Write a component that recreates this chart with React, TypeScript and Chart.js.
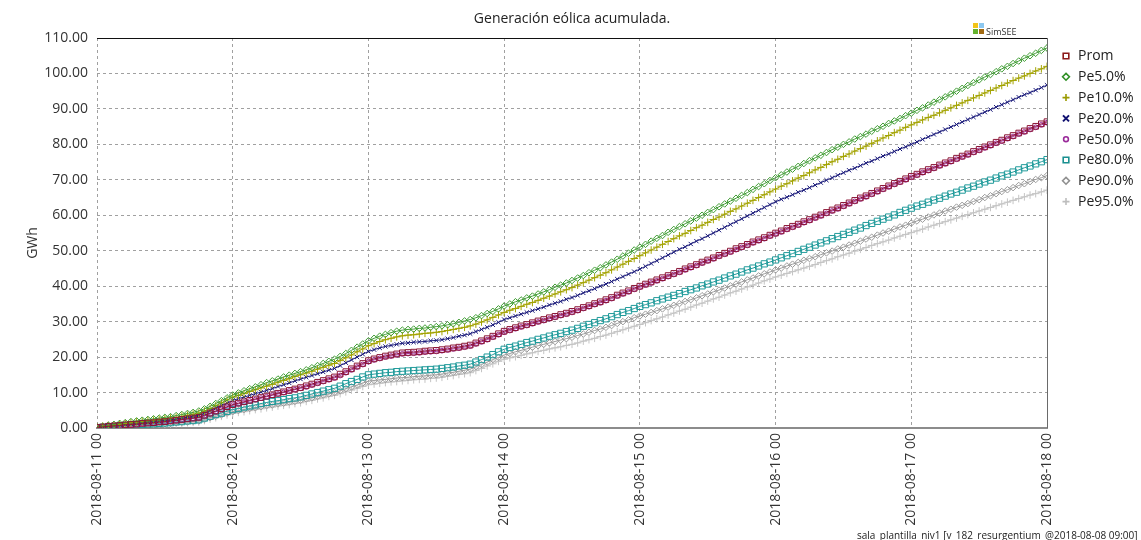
import { useEffect, useRef } from "react";
import { Chart, registerables } from "chart.js";

Chart.register(...registerables);

const FONT = "'Open Sans', 'Noto Sans', sans-serif";

const chartTitle = "Generación eólica acumulada.";
const yTitle = "GWh";
const footerText = "sala_plantilla_niv1 [v_182_resurgentium_@2018-08-08 09:00]";

const dayLabels = [
  "2018-08-11 00",
  "2018-08-12 00",
  "2018-08-13 00",
  "2018-08-14 00",
  "2018-08-15 00",
  "2018-08-16 00",
  "2018-08-17 00",
  "2018-08-18 00",
];

const seriesNames = ["Prom", "Pe5.0%", "Pe10.0%", "Pe20.0%", "Pe50.0%", "Pe80.0%", "Pe90.0%", "Pe95.0%"];

// hourly cumulative energy (GWh), 2018-08-11 00 .. 2018-08-18 00
const prom = [
  0.2, 0.3, 0.5, 0.6, 0.7, 0.9, 1.0,
  1.1, 1.3, 1.4, 1.5, 1.7, 1.8,
  2.0, 2.2, 2.4, 2.6, 2.8, 3.0,
  3.6, 4.2, 4.8, 5.4, 6.0, 6.6,
  7.0, 7.4, 7.8, 8.2, 8.6, 9.0,
  9.4, 9.8, 10.2, 10.6, 11.0, 11.4,
  11.9, 12.4, 12.9, 13.4, 13.9, 14.4,
  15.2, 15.9, 16.7, 17.5, 18.2, 19.0,
  19.5, 19.9, 20.3, 20.6, 20.9, 21.2,
  21.3, 21.4, 21.5, 21.7, 21.8, 21.9,
  22.1, 22.3, 22.6, 22.8, 23.1, 23.4,
  24.0, 24.6, 25.2, 25.9, 26.6, 27.3,
  27.8, 28.3, 28.8, 29.2, 29.7, 30.2,
  30.6, 31.1, 31.5, 32.0, 32.4, 32.9,
  33.4, 34.0, 34.5, 35.1, 35.6, 36.2,
  36.8, 37.5, 38.1, 38.7, 39.4, 40.0,
  40.6, 41.2, 41.8, 42.4, 43.0, 43.6,
  44.2, 44.9, 45.5, 46.1, 46.8, 47.4,
  48.0, 48.7, 49.3, 49.9, 50.6, 51.2,
  51.8, 52.5, 53.1, 53.7, 54.4, 55.0,
  55.6, 56.3, 56.9, 57.5, 58.2, 58.8,
  59.5, 60.1, 60.8, 61.5, 62.1, 62.8,
  63.5, 64.2, 64.9, 65.5, 66.2, 66.9,
  67.6, 68.3, 69.0, 69.6, 70.3, 71.0,
  71.6, 72.3, 72.9, 73.5, 74.2, 74.8,
  75.4, 76.1, 76.7, 77.3, 78.0, 78.6,
  79.3, 79.9, 80.6, 81.2, 81.9, 82.5,
  83.2, 83.8, 84.5, 85.1, 85.8, 86.4,
];

const pe5 = [
  0.3, 0.5, 0.8, 1.0, 1.3, 1.5, 1.8,
  2.0, 2.2, 2.4, 2.6, 2.8, 3.0,
  3.2, 3.5, 3.8, 4.1, 4.4, 4.8,
  5.4, 6.1, 6.9, 7.7, 8.5, 9.3,
  9.9, 10.5, 11.1, 11.6, 12.2, 12.8,
  13.3, 13.8, 14.4, 14.9, 15.4, 15.9,
  16.4, 17.0, 17.6, 18.2, 18.8, 19.4,
  20.2, 21.0, 21.9, 22.8, 23.7, 24.6,
  25.3, 25.9, 26.4, 26.9, 27.3, 27.6,
  27.8, 27.9, 28.1, 28.2, 28.4, 28.6,
  28.8, 29.1, 29.4, 29.8, 30.2, 30.6,
  31.1, 31.7, 32.3, 32.9, 33.6, 34.4,
  35.0, 35.6, 36.1, 36.7, 37.2, 37.8,
  38.4, 39.0, 39.7, 40.3, 40.9, 41.6,
  42.3, 43.0, 43.8, 44.5, 45.2, 46.0,
  46.8, 47.6, 48.5, 49.3, 50.2, 51.0,
  51.8, 52.7, 53.5, 54.3, 55.2, 56.0,
  56.8, 57.6, 58.4, 59.2, 60.0, 60.8,
  61.6, 62.4, 63.2, 64.0, 64.8, 65.6,
  66.4, 67.3, 68.1, 68.9, 69.8, 70.6,
  71.4, 72.2, 73.0, 73.8, 74.6, 75.4,
  76.2, 76.9, 77.7, 78.5, 79.2, 80.0,
  80.7, 81.5, 82.2, 82.9, 83.7, 84.4,
  85.1, 85.9, 86.6, 87.3, 88.1, 88.8,
  89.6, 90.3, 91.1, 91.9, 92.6, 93.4,
  94.2, 95.0, 95.8, 96.6, 97.4, 98.2,
  99.0, 99.7, 100.5, 101.3, 102.0, 102.8,
  103.5, 104.3, 105.0, 105.7, 106.5, 107.2,
];

const pe10 = [
  0.3, 0.5, 0.7, 0.9, 1.1, 1.3, 1.5,
  1.7, 1.9, 2.1, 2.2, 2.4, 2.6,
  2.8, 3.0, 3.3, 3.6, 3.9, 4.2,
  4.8, 5.5, 6.3, 7.1, 7.9, 8.7,
  9.2, 9.7, 10.3, 10.8, 11.3, 11.8,
  12.3, 12.9, 13.4, 13.9, 14.5, 15.0,
  15.5, 16.0, 16.6, 17.1, 17.7, 18.2,
  19.0, 19.8, 20.6, 21.5, 22.3, 23.2,
  23.8, 24.4, 24.9, 25.3, 25.7, 26.0,
  26.2, 26.3, 26.5, 26.7, 26.8, 27.0,
  27.2, 27.5, 27.8, 28.1, 28.4, 28.8,
  29.3, 29.9, 30.5, 31.2, 31.9, 32.6,
  33.2, 33.7, 34.3, 34.9, 35.4, 36.0,
  36.6, 37.2, 37.8, 38.4, 39.0, 39.6,
  40.3, 41.0, 41.7, 42.4, 43.1, 43.8,
  44.6, 45.4, 46.2, 47.0, 47.8, 48.6,
  49.4, 50.2, 51.0, 51.8, 52.6, 53.4,
  54.2, 54.9, 55.7, 56.5, 57.2, 58.0,
  58.8, 59.5, 60.3, 61.1, 61.8, 62.6,
  63.4, 64.2, 65.0, 65.8, 66.6, 67.4,
  68.2, 68.9, 69.7, 70.5, 71.2, 72.0,
  72.8, 73.5, 74.3, 75.1, 75.8, 76.6,
  77.3, 78.1, 78.8, 79.5, 80.3, 81.0,
  81.8, 82.5, 83.3, 84.0, 84.8, 85.5,
  86.2, 86.9, 87.6, 88.2, 88.9, 89.6,
  90.3, 91.0, 91.7, 92.4, 93.1, 93.8,
  94.5, 95.2, 95.9, 96.6, 97.3, 98.0,
  98.7, 99.3, 100.0, 100.7, 101.3, 102.0,
];

const pe20 = [
  0.2, 0.4, 0.5, 0.7, 0.9, 1.0, 1.2,
  1.4, 1.5, 1.7, 1.8, 2.0, 2.1,
  2.3, 2.5, 2.8, 3.0, 3.3, 3.6,
  4.2, 4.9, 5.6, 6.3, 7.0, 7.8,
  8.3, 8.7, 9.2, 9.7, 10.1, 10.6,
  11.1, 11.7, 12.2, 12.7, 13.3, 13.8,
  14.3, 14.8, 15.3, 15.8, 16.3, 16.8,
  17.6, 18.4, 19.2, 20.0, 20.8, 21.6,
  22.1, 22.6, 23.0, 23.3, 23.6, 23.9,
  24.0, 24.2, 24.3, 24.4, 24.6, 24.7,
  24.9, 25.2, 25.5, 25.9, 26.2, 26.6,
  27.2, 27.8, 28.4, 29.1, 29.8, 30.6,
  31.1, 31.6, 32.1, 32.6, 33.1, 33.6,
  34.1, 34.7, 35.2, 35.7, 36.3, 36.8,
  37.4, 38.1, 38.7, 39.3, 40.0, 40.6,
  41.3, 42.0, 42.7, 43.4, 44.1, 44.8,
  45.6, 46.4, 47.2, 48.0, 48.8, 49.6,
  50.4, 51.1, 51.9, 52.7, 53.4, 54.2,
  55.0, 55.8, 56.6, 57.4, 58.2, 59.0,
  59.8, 60.6, 61.4, 62.2, 63.0, 63.8,
  64.5, 65.1, 65.8, 66.5, 67.1, 67.8,
  68.5, 69.2, 69.9, 70.6, 71.3, 72.0,
  72.7, 73.3, 74.0, 74.7, 75.3, 76.0,
  76.7, 77.3, 78.0, 78.7, 79.3, 80.0,
  80.7, 81.4, 82.1, 82.8, 83.5, 84.2,
  84.9, 85.6, 86.3, 87.0, 87.7, 88.4,
  89.1, 89.8, 90.5, 91.2, 91.9, 92.6,
  93.3, 94.0, 94.6, 95.3, 96.0, 96.7,
];

const pe50 = [
  0.2, 0.3, 0.4, 0.5, 0.7, 0.8, 0.9,
  1.0, 1.2, 1.3, 1.4, 1.6, 1.7,
  1.9, 2.1, 2.3, 2.5, 2.7, 2.9,
  3.4, 4.0, 4.6, 5.2, 5.8, 6.4,
  6.8, 7.2, 7.6, 8.0, 8.4, 8.8,
  9.2, 9.6, 10.0, 10.4, 10.8, 11.2,
  11.6, 12.1, 12.6, 13.1, 13.6, 14.1,
  14.8, 15.6, 16.4, 17.2, 17.9, 18.7,
  19.2, 19.6, 20.0, 20.3, 20.6, 20.9,
  21.0, 21.1, 21.2, 21.4, 21.5, 21.6,
  21.8, 22.0, 22.3, 22.5, 22.8, 23.1,
  23.7, 24.3, 24.9, 25.6, 26.3, 27.0,
  27.5, 28.0, 28.5, 28.9, 29.4, 29.9,
  30.3, 30.8, 31.2, 31.7, 32.1, 32.6,
  33.1, 33.7, 34.2, 34.8, 35.3, 35.9,
  36.5, 37.2, 37.8, 38.4, 39.1, 39.7,
  40.3, 40.9, 41.5, 42.1, 42.7, 43.3,
  43.9, 44.6, 45.2, 45.8, 46.5, 47.1,
  47.7, 48.4, 49.0, 49.6, 50.3, 50.9,
  51.5, 52.2, 52.8, 53.4, 54.1, 54.7,
  55.3, 56.0, 56.6, 57.2, 57.9, 58.5,
  59.2, 59.8, 60.5, 61.2, 61.8, 62.5,
  63.2, 63.9, 64.6, 65.2, 65.9, 66.6,
  67.3, 68.0, 68.7, 69.3, 70.0, 70.7,
  71.3, 72.0, 72.6, 73.2, 73.9, 74.5,
  75.1, 75.8, 76.4, 77.0, 77.7, 78.3,
  79.0, 79.6, 80.3, 80.9, 81.6, 82.2,
  82.9, 83.5, 84.2, 84.8, 85.5, 86.1,
];

const pe80 = [
  0.1, 0.2, 0.3, 0.4, 0.6, 0.7, 0.8,
  0.9, 1.0, 1.1, 1.2, 1.3, 1.4,
  1.5, 1.7, 1.8, 2.0, 2.1, 2.3,
  2.8, 3.3, 3.8, 4.2, 4.7, 5.2,
  5.5, 5.9, 6.2, 6.5, 6.9, 7.2,
  7.5, 7.7, 8.0, 8.3, 8.5, 8.8,
  9.2, 9.6, 10.0, 10.4, 10.8, 11.2,
  11.8, 12.5, 13.1, 13.7, 14.4, 15.0,
  15.2, 15.4, 15.6, 15.7, 15.9, 16.0,
  16.1, 16.2, 16.3, 16.4, 16.5, 16.6,
  16.8, 17.0, 17.2, 17.5, 17.7, 18.0,
  18.6, 19.3, 20.0, 20.7, 21.5, 22.2,
  22.7, 23.1, 23.6, 24.1, 24.5, 25.0,
  25.4, 25.9, 26.3, 26.7, 27.2, 27.6,
  28.1, 28.7, 29.2, 29.7, 30.3, 30.8,
  31.4, 32.0, 32.6, 33.1, 33.7, 34.3,
  34.8, 35.3, 35.9, 36.4, 36.9, 37.4,
  37.9, 38.5, 39.0, 39.5, 40.1, 40.6,
  41.2, 41.7, 42.3, 42.9, 43.4, 44.0,
  44.6, 45.1, 45.7, 46.3, 46.8, 47.4,
  48.0, 48.6, 49.2, 49.8, 50.4, 51.0,
  51.6, 52.2, 52.8, 53.4, 54.0, 54.6,
  55.2, 55.8, 56.4, 57.1, 57.7, 58.3,
  58.9, 59.5, 60.1, 60.8, 61.4, 62.0,
  62.6, 63.1, 63.7, 64.3, 64.8, 65.4,
  66.0, 66.5, 67.1, 67.7, 68.2, 68.8,
  69.4, 69.9, 70.5, 71.1, 71.6, 72.2,
  72.8, 73.4, 73.9, 74.5, 75.1, 75.7,
];

const pe90 = [
  0.1, 0.2, 0.3, 0.4, 0.5, 0.6, 0.7,
  0.8, 0.9, 1.0, 1.0, 1.1, 1.2,
  1.3, 1.5, 1.6, 1.7, 1.9, 2.0,
  2.4, 2.9, 3.3, 3.7, 4.2, 4.6,
  4.9, 5.2, 5.5, 5.7, 6.0, 6.3,
  6.5, 6.8, 7.0, 7.3, 7.5, 7.8,
  8.2, 8.5, 8.9, 9.3, 9.6, 10.0,
  10.5, 11.1, 11.6, 12.1, 12.7, 13.2,
  13.4, 13.6, 13.7, 13.9, 14.1, 14.2,
  14.3, 14.5, 14.6, 14.7, 14.9, 15.0,
  15.2, 15.5, 15.7, 16.0, 16.3, 16.6,
  17.3, 17.9, 18.6, 19.3, 19.9, 20.6,
  21.0, 21.5, 21.9, 22.3, 22.8, 23.2,
  23.6, 24.0, 24.4, 24.8, 25.2, 25.6,
  26.1, 26.5, 27.0, 27.5, 27.9, 28.4,
  28.9, 29.5, 30.0, 30.5, 31.1, 31.6,
  32.1, 32.6, 33.1, 33.6, 34.1, 34.6,
  35.1, 35.7, 36.2, 36.7, 37.3, 37.8,
  38.4, 38.9, 39.5, 40.1, 40.6, 41.2,
  41.8, 42.3, 42.9, 43.5, 44.0, 44.6,
  45.1, 45.7, 46.2, 46.7, 47.3, 47.8,
  48.3, 48.9, 49.4, 49.9, 50.5, 51.0,
  51.6, 52.1, 52.7, 53.3, 53.8, 54.4,
  55.0, 55.5, 56.1, 56.7, 57.2, 57.8,
  58.4, 58.9, 59.5, 60.1, 60.6, 61.2,
  61.7, 62.3, 62.8, 63.3, 63.9, 64.4,
  65.0, 65.5, 66.1, 66.7, 67.2, 67.8,
  68.4, 68.9, 69.5, 70.1, 70.6, 71.2,
];

const pe95 = [
  0.1, 0.2, 0.3, 0.3, 0.4, 0.5, 0.6,
  0.7, 0.7, 0.8, 0.9, 0.9, 1.0,
  1.1, 1.2, 1.3, 1.5, 1.6, 1.7,
  2.1, 2.5, 2.9, 3.3, 3.7, 4.1,
  4.4, 4.6, 4.9, 5.2, 5.4, 5.7,
  5.9, 6.2, 6.4, 6.6, 6.9, 7.1,
  7.5, 7.8, 8.2, 8.5, 8.9, 9.2,
  9.7, 10.2, 10.7, 11.2, 11.7, 12.2,
  12.4, 12.6, 12.8, 13.0, 13.1, 13.3,
  13.4, 13.6, 13.7, 13.8, 14.0, 14.1,
  14.3, 14.6, 14.8, 15.1, 15.3, 15.6,
  16.2, 16.8, 17.5, 18.1, 18.8, 19.4,
  19.8, 20.1, 20.5, 20.9, 21.2, 21.6,
  21.9, 22.3, 22.6, 22.9, 23.3, 23.6,
  24.0, 24.5, 24.9, 25.3, 25.8, 26.2,
  26.7, 27.2, 27.7, 28.2, 28.7, 29.2,
  29.7, 30.3, 30.8, 31.3, 31.9, 32.4,
  33.0, 33.5, 34.1, 34.7, 35.2, 35.8,
  36.4, 36.9, 37.5, 38.1, 38.6, 39.2,
  39.8, 40.3, 40.9, 41.5, 42.0, 42.6,
  43.1, 43.6, 44.1, 44.6, 45.1, 45.6,
  46.1, 46.7, 47.2, 47.7, 48.3, 48.8,
  49.3, 49.9, 50.4, 50.9, 51.5, 52.0,
  52.5, 53.0, 53.6, 54.1, 54.6, 55.1,
  55.6, 56.1, 56.7, 57.2, 57.7, 58.2,
  58.7, 59.2, 59.7, 60.2, 60.7, 61.2,
  61.7, 62.2, 62.7, 63.2, 63.7, 64.2,
  64.7, 65.2, 65.7, 66.1, 66.6, 67.1,
];

const seriesValues = [prom, pe5, pe10, pe20, pe50, pe80, pe90, pe95];

// styles
const seriesColors = ["#8b1536", "#3f9c33", "#a3a300", "#1a1a7a", "#a02e9c", "#1f9a9a", "#9a9a9a", "#c4c4c4"];
const legendColors = ["#8b1a1a", "#2f8f25", "#9a9a00", "#101070", "#9a2a9a", "#1a9090", "#909090", "#bdbdbd"];
const seriesPointStyles = ["rect", "rectRot", "cross", "crossRot", "circle", "rect", "rectRot", "cross"];
const seriesPointRadius = [4, 3.3, 3.8, 3, 2.4, 4.4, 3.3, 3.8];

function drawMarker(ctx: CanvasRenderingContext2D, style: string, x: number, y: number, color: string) {
  ctx.save();
  ctx.strokeStyle = color;
  ctx.lineWidth = 1.6;
  ctx.beginPath();
  if (style === "rect") {
    ctx.rect(x - 2.8, y - 2.8, 5.6, 5.6);
  } else if (style === "rectRot") {
    ctx.moveTo(x, y - 3.4);
    ctx.lineTo(x + 3.4, y);
    ctx.lineTo(x, y + 3.4);
    ctx.lineTo(x - 3.4, y);
    ctx.closePath();
  } else if (style === "cross") {
    ctx.moveTo(x - 3.5, y);
    ctx.lineTo(x + 3.5, y);
    ctx.moveTo(x, y - 3.5);
    ctx.lineTo(x, y + 3.5);
  } else if (style === "crossRot") {
    ctx.lineWidth = 2;
    ctx.moveTo(x - 3, y - 3);
    ctx.lineTo(x + 3, y + 3);
    ctx.moveTo(x + 3, y - 3);
    ctx.lineTo(x - 3, y + 3);
  } else {
    ctx.arc(x, y, 2.4, 0, Math.PI * 2);
  }
  ctx.stroke();
  ctx.restore();
}

const overlay = {
  id: "overlay",
  afterDraw(chart: any) {
    const ctx: CanvasRenderingContext2D = chart.ctx;
    const area = chart.chartArea;
    ctx.save();
    // frame: top solid black, right solid gray
    ctx.strokeStyle = "#111";
    ctx.lineWidth = 1;
    ctx.beginPath();
    ctx.moveTo(area.left, Math.round(area.top) + 0.5);
    ctx.lineTo(area.right, Math.round(area.top) + 0.5);
    ctx.stroke();
    ctx.strokeStyle = "#6a6a6a";
    ctx.beginPath();
    ctx.moveTo(Math.round(area.right) + 0.5, area.top);
    ctx.lineTo(Math.round(area.right) + 0.5, area.bottom);
    ctx.stroke();

    // title
    ctx.fillStyle = "#222";
    ctx.font = `14px ${FONT}`;
    ctx.textAlign = "center";
    ctx.textBaseline = "middle";
    ctx.fillText(chartTitle, (area.left + area.right) / 2, 19);

    // y title
    ctx.save();
    ctx.translate(33, 243);
    ctx.rotate(-Math.PI / 2);
    ctx.font = `14px ${FONT}`;
    ctx.fillStyle = "#333";
    ctx.fillText(yTitle, 0, 0);
    ctx.restore();

    // SimSEE logo
    ctx.fillStyle = "#f2c41a";
    ctx.fillRect(973, 23, 5, 5);
    ctx.fillStyle = "#8cc8f0";
    ctx.fillRect(979, 23, 5, 5);
    ctx.fillStyle = "#66b32e";
    ctx.fillRect(973, 29, 5, 5);
    ctx.fillStyle = "#a26a12";
    ctx.fillRect(979, 29, 5, 5);
    ctx.fillStyle = "#333";
    ctx.font = `9px ${FONT}`;
    ctx.textAlign = "left";
    ctx.textBaseline = "alphabetic";
    ctx.fillText("SimSEE", 986, 35);

    // legend
    ctx.font = `14px ${FONT}`;
    ctx.textBaseline = "middle";
    ctx.fillStyle = "#222";
    for (let i = 0; i < seriesNames.length; i++) {
      const y = 56 + i * 20.8;
      drawMarker(ctx, seriesPointStyles[i], 1066, y, legendColors[i]);
      ctx.fillStyle = "#222";
      ctx.fillText(seriesNames[i], 1078, y + 0.5);
    }

    // footer
    ctx.font = `10px ${FONT}`;
    ctx.textBaseline = "alphabetic";
    ctx.fillStyle = "#222";
    ctx.fillText(footerText, 857, 539);
    ctx.restore();
  },
};

export default function App() {
  const ref = useRef<HTMLCanvasElement | null>(null);

  useEffect(() => {
    document.body.style.margin = "0";
    const canvas = ref.current;
    if (!canvas) return;
    const datasets = seriesNames.map((name, i) => ({
      label: name,
      data: seriesValues[i].map((v, h) => ({ x: h, y: v })),
      borderColor: seriesColors[i],
      backgroundColor: "rgba(0,0,0,0)",
      borderWidth: 1,
      pointStyle: seriesPointStyles[i] as any,
      pointRadius: seriesPointRadius[i],
      pointBorderWidth: 1,
      pointBorderColor: seriesColors[i],
      pointBackgroundColor: "rgba(255,255,255,0)",
      tension: 0,
      fill: false,
    }));

    const tickFont = { family: FONT, size: 14 };
    const chart = new Chart(canvas, {
      type: "line",
      data: { datasets },
      options: {
        animation: false,
        responsive: false,
        events: [],
        layout: { padding: { left: 0, top: 38, right: 94, bottom: 0 } },
        plugins: {
          legend: { display: false },
          title: { display: false },
          tooltip: { enabled: false },
        },
        scales: {
          x: {
            type: "linear",
            min: 0,
            max: 168,
            ticks: {
              stepSize: 24,
              autoSkip: false,
              minRotation: 90,
              maxRotation: 90,
              padding: 5,
              font: tickFont,
              color: "#333",
              callback: (v: any) => dayLabels[Math.round(Number(v) / 24)] ?? "",
            },
            grid: { color: "#a0a0a0", lineWidth: 1, drawTicks: false },
            border: { display: true, color: "#8c8c8c", width: 2, dash: [3, 3] },
            afterFit: (s: any) => {
              s.height = 112;
            },
          },
          y: {
            min: 0,
            max: 110,
            ticks: {
              stepSize: 10,
              padding: 9,
              font: tickFont,
              color: "#333",
              callback: (v: any) => Number(v).toFixed(2),
            },
            grid: { color: "#a0a0a0", lineWidth: 1, drawTicks: false },
            border: { display: false, dash: [3, 3] },
            afterFit: (s: any) => {
              s.width = 97;
            },
          },
        },
      } as any,
      plugins: [overlay],
    });
    return () => chart.destroy();
  }, []);

  return (
    <div style={{ width: 1141, height: 540 }}>
      <canvas ref={ref} width={1141} height={540} style={{ display: "block" }} />
    </div>
  );
}
